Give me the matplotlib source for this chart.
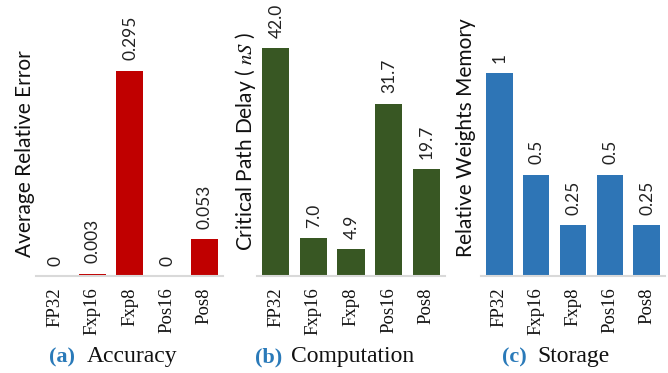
import matplotlib
matplotlib.use("Agg")
import matplotlib.pyplot as plt

categories = ["FP32", "Fxp16", "Fxp8", "Pos16", "Pos8"]

error_values = [0, 0.003, 0.295, 0, 0.053]
error_labels = ["0", "0.003", "0.295", "0", "0.053"]

delay_values = [42.0, 7.0, 4.9, 31.7, 19.7]
delay_labels = ["42.0", "7.0", "4.9", "31.7", "19.7"]

memory_values = [1, 0.5, 0.25, 0.5, 0.25]
memory_labels = ["1", "0.5", "0.25", "0.5", "0.25"]

W, H = 668, 373
fig = plt.figure(figsize=(W / 100, H / 100), dpi=100)

SANS = "Lato"
SERIF = "Liberation Serif"
plt.rcParams["mathtext.fontset"] = "stix"

panels = [
    dict(values=error_values, labels=error_labels, color="#C00000", ymax=0.397,
         x0=36, x1=223, ylabel="Average Relative Error", ylab_x=25, ylab_y=257,
         tag="(a)", name="Accuracy", tag_x1=75, name_x0=87),
    dict(values=delay_values, labels=delay_labels, color="#385723", ymax=50.84,
         x0=257, x1=445, ylabel="Critical Path Delay ( $nS$ )", ylab_x=246,
         ylab_y=251, tag="(b)", name="Computation", tag_x1=282, name_x0=291),
    dict(values=memory_values, labels=memory_labels, color="#2E75B6", ymax=1.36,
         x0=481, x1=665, ylabel="Relative Weights Memory", ylab_x=466,
         ylab_y=257, tag="(c)", name="Storage", tag_x1=527, name_x0=537),
]

base_px = 276
for p in panels:
    ax = fig.add_axes([p["x0"] / W, (H - base_px) / H,
                       (p["x1"] - p["x0"]) / W, base_px / H])
    x = list(range(len(categories)))
    bars = ax.bar(x, p["values"], width=0.72, color=p["color"], zorder=2)
    ax.set_xlim(-0.5, len(categories) - 0.5)
    ax.set_ylim(0, p["ymax"])
    for s in ["top", "right", "left"]:
        ax.spines[s].set_visible(False)
    ax.spines["bottom"].set_color("#D9D9D9")
    ax.spines["bottom"].set_linewidth(1.5)
    ax.set_yticks([])
    ax.set_xticks(x)
    ax.set_xticklabels(categories, rotation=90, fontfamily=SERIF, fontsize=13.5,
                       color="#111111")
    ax.tick_params(axis="x", length=0, pad=8)
    ax.patch.set_alpha(0)
    for b, lab in zip(bars, p["labels"]):
        ax.annotate(lab, (b.get_x() + b.get_width() / 2, b.get_height()),
                    xytext=(0.5, 7.5), textcoords="offset points",
                    rotation=90, ha="center", va="bottom",
                    fontfamily=SANS, fontsize=12.5, color="#222222")
    fig.text(p["ylab_x"] / W, (H - p["ylab_y"]) / H, p["ylabel"], rotation=90,
             ha="center", va="bottom", fontfamily=SANS, fontsize=15,
             color="#111111")
    fig.text(p["tag_x1"] / W, (H - 362) / H, p["tag"], ha="right",
             va="baseline", fontfamily=SERIF, fontweight="bold", fontsize=16,
             color="#2A7AB9")
    fig.text(p["name_x0"] / W, (H - 362) / H, p["name"], ha="left",
             va="baseline", fontfamily=SERIF, fontsize=17, color="#111111")

fig.savefig("out.png", dpi=100)
